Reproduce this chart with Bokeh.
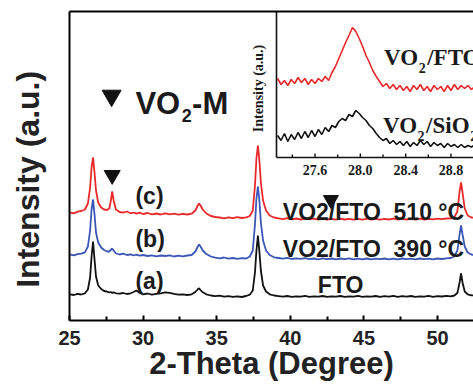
from bokeh.plotting import figure
from bokeh.models import Range1d, LinearAxis, FixedTicker
from bokeh.core.properties import value
from bokeh.embed import file_html
from bokeh.resources import INLINE

# ---------------- data: main XRD patterns (2-theta in degrees, intensity a.u.) ----------------
two_theta = [
    25.05, 25.3, 25.55, 25.8, 26.05, 26.25, 26.4, 26.5, 26.6, 26.7,
    26.8, 26.95, 27.15, 27.35, 27.55, 27.7, 27.8, 27.9, 28.0, 28.15,
    28.4, 28.65, 28.9, 29.15, 29.35, 29.55, 29.75, 30.0, 30.3, 30.6,
    30.9, 31.2, 31.5, 31.8, 32.1, 32.4, 32.7, 33.0, 33.3, 33.55,
    33.7, 33.8, 33.9, 34.05, 34.3, 34.6, 34.9, 35.2, 35.5, 35.8,
    36.1, 36.4, 36.7, 37.0, 37.25, 37.45, 37.6, 37.7, 37.8, 37.9,
    38.0, 38.15, 38.35, 38.6, 38.9, 39.2, 39.5, 39.8, 40.1, 40.4,
    40.7, 41.0, 41.3, 41.6, 41.9, 42.2, 42.5, 42.8, 43.1, 43.4,
    43.7, 44.0, 44.3, 44.6, 44.9, 45.2, 45.5, 45.8, 46.1, 46.4,
    46.7, 47.0, 47.3, 47.6, 47.9, 48.2, 48.5, 48.8, 49.1, 49.4,
    49.7, 50.0, 50.3, 50.6, 50.9, 51.15, 51.35, 51.5, 51.6, 51.7,
    51.85, 52.05, 52.3, 52.6,
]
fto_a = [
    262, 255, 266, 260, 272, 310, 430, 640, 790, 610,
    440, 350, 315, 295, 288, 280, 285, 276, 282, 272,
    268, 275, 265, 272, 285, 300, 278, 262, 270, 258,
    266, 272, 282, 276, 266, 258, 262, 255, 262, 285,
    310, 322, 305, 282, 262, 250, 244, 248, 238, 244,
    236, 242, 235, 245, 258, 300, 480, 700, 850, 690,
    500, 350, 290, 262, 250, 244, 238, 245, 236, 242,
    238, 246, 236, 242, 238, 245, 236, 242, 238, 245,
    236, 242, 238, 246, 236, 242, 238, 245, 236, 243,
    238, 246, 237, 243, 238, 245, 236, 242, 239, 246,
    237, 243, 240, 246, 242, 250, 275, 380, 470, 380,
    290, 262, 252, 250,
]
vo2_390_b = [
    660, 652, 664, 668, 682, 740, 900, 1110, 1210, 1060,
    880, 780, 730, 705, 690, 690, 705, 720, 700, 670,
    660, 668, 655, 662, 650, 658, 648, 655, 645, 652,
    642, 650, 645, 652, 640, 648, 642, 650, 655, 690,
    735, 760, 740, 700, 665, 640, 628, 622, 630, 618,
    625, 616, 624, 620, 640, 700, 960, 1220, 1340, 1200,
    980, 800, 700, 655, 632, 625, 618, 626, 615, 622,
    616, 624, 614, 620, 612, 622, 614, 620, 612, 620,
    613, 621, 612, 618, 612, 620, 611, 619, 613, 620,
    612, 619, 611, 620, 613, 618, 611, 620, 614, 619,
    612, 620, 615, 622, 625, 640, 700, 860, 950, 860,
    740, 680, 660, 650,
]
vo2_510_c = [
    1080, 1072, 1088, 1095, 1110, 1170, 1330, 1530, 1630, 1480,
    1300, 1180, 1130, 1110, 1105, 1120, 1190, 1290, 1200, 1110,
    1085, 1078, 1090, 1072, 1080, 1068, 1078, 1065, 1075, 1062,
    1070, 1060, 1072, 1062, 1068, 1058, 1066, 1060, 1068, 1100,
    1145, 1170, 1150, 1110, 1070, 1045, 1035, 1030, 1022, 1032,
    1024, 1034, 1025, 1032, 1045, 1100, 1350, 1620, 1750, 1600,
    1380, 1200, 1100, 1050, 1030, 1022, 1014, 1024, 1012, 1020,
    1010, 1020, 1012, 1018, 1008, 1018, 1010, 1016, 1008, 1018,
    1010, 1017, 1008, 1016, 1009, 1018, 1010, 1017, 1008, 1016,
    1010, 1018, 1009, 1016, 1010, 1017, 1008, 1018, 1010, 1016,
    1012, 1018, 1013, 1020, 1022, 1035, 1090, 1290, 1380, 1280,
    1120, 1050, 1030, 1025,
]

# ---------------- data: inset (zoom on the VO2 (011) reflection) ----------------
inset_theta = [
    27.27, 27.30, 27.33, 27.36, 27.39, 27.42, 27.45, 27.48, 27.51, 27.54,
    27.57, 27.60, 27.63, 27.66, 27.69, 27.72, 27.75, 27.78, 27.81, 27.84,
    27.87, 27.90, 27.93, 27.96, 27.99, 28.02, 28.05, 28.08, 28.11, 28.14,
    28.17, 28.20, 28.23, 28.26, 28.29, 28.32, 28.35, 28.38, 28.41, 28.44,
    28.47, 28.50, 28.53, 28.56, 28.59, 28.62, 28.65, 28.68, 28.71, 28.74,
    28.77, 28.80, 28.83, 28.86, 28.89, 28.92, 28.95, 28.98, 29.01,
]
inset_vo2_fto = [
    790, 730, 770, 720, 780, 740, 800, 750, 790, 730,
    780, 740, 790, 760, 810, 770, 850, 910, 990, 1070,
    1150, 1220, 1300, 1260, 1190, 1110, 1020, 950, 870, 810,
    760, 710, 740, 690, 730, 680, 720, 670, 710, 660,
    720, 680, 730, 670, 710, 660, 720, 680, 710, 660,
    720, 670, 730, 680, 720, 690, 720, 680, 710,
]
inset_vo2_sio2 = [
    220, 170, 240, 160, 230, 180, 250, 190, 260, 200,
    270, 210, 280, 230, 300, 260, 320, 300, 360, 390,
    370, 430, 410, 470, 440, 400, 370, 320, 290, 240,
    200, 170, 190, 140, 170, 130, 160, 120, 160, 110,
    150, 120, 170, 130, 160, 110, 150, 120, 140, 100,
    140, 110, 130, 100, 130, 100, 120, 105, 125,
]
inset_ticks = [27.6, 28.0, 28.4, 28.8]
inset_minor = [27.4, 27.8, 28.2, 28.6]
inset_tick_labels = ["27.6", "28.0", "28.4", "28.8"]

main_ticks = [25, 30, 35, 40, 45, 50]
main_minor = [27.5, 32.5, 37.5, 42.5, 47.5]

RED = "#e8292b"
BLUE = "#3b56b6"
BLACK = "#111111"
SANS = "Liberation Sans"
SERIF = "Liberation Serif"

# ---------------- layout constants (pixels) ----------------
FIG_W, FIG_H = 473, 384
BORDER_L, BORDER_T, BORDER_B = 69, 11, 64
frame_w = FIG_W - BORDER_L
frame_h = FIG_H - BORDER_T - BORDER_B
px_per_deg = 14.72
x_start = 25.0
x_end = x_start + frame_w / px_per_deg
y_start, y_end = 0.0, 3090.0

p = figure(width=FIG_W, height=FIG_H, output_backend="svg", toolbar_location=None,
           x_range=Range1d(x_start, x_end), y_range=Range1d(y_start, y_end),
           min_border_left=BORDER_L, min_border_right=0, min_border_top=BORDER_T,
           min_border_bottom=BORDER_B)
p.grid.visible = False
p.outline_line_color = None
p.background_fill_color = "white"
p.border_fill_color = "white"

xa = p.xaxis[0]
xa.ticker = FixedTicker(ticks=main_ticks, minor_ticks=main_minor)
xa.axis_line_width = 2
xa.major_tick_line_width = 2
xa.minor_tick_line_width = 2
xa.major_tick_in = 5
xa.major_tick_out = 0
xa.minor_tick_in = 4
xa.minor_tick_out = 0
xa.major_label_text_font = SANS
xa.major_label_text_font_style = "bold"
xa.major_label_text_font_size = "20px"
xa.major_label_text_color = "#222222"
xa.major_label_standoff = 10
xa.axis_label = "2-Theta (Degree)"
xa.axis_label_text_font = SANS
xa.axis_label_text_font_style = "bold"
xa.axis_label_text_font_size = "31px"
xa.axis_label_text_color = "#222222"
xa.axis_label_standoff = -2

ya = p.yaxis[0]
ya.ticker = FixedTicker(ticks=[])
ya.axis_line_width = 2
ya.major_tick_line_color = None
ya.minor_tick_line_color = None
ya.major_label_text_font_size = "0px"
# trailing no-break spaces nudge the visible label toward the bottom, as in the reference
ya.axis_label = "Intensity (a.u.)\u00a0\u00a0\u00a0"
ya.axis_label_text_font = SANS
ya.axis_label_text_font_style = "bold"
ya.axis_label_text_font_size = "32px"
ya.axis_label_text_color = "#222222"
ya.axis_label_standoff = 24

top = LinearAxis(ticker=FixedTicker(ticks=[]), axis_line_width=2,
                 major_tick_line_color=None, minor_tick_line_color=None,
                 major_label_text_font_size="0px", major_label_standoff=0)
p.add_layout(top, "above")

# main curves
p.line(two_theta, fto_a, line_color=BLACK, line_width=1.8)
p.line(two_theta, vo2_390_b, line_color=BLUE, line_width=1.8)
p.line(two_theta, vo2_510_c, line_color=RED, line_width=1.8)

# VO2-M markers
p.scatter([27.86], [2248], marker="inverted_triangle", size=19, color=BLACK)
p.scatter([27.9], [1454], marker="inverted_triangle", size=16, color=BLACK)
p.scatter([42.76], [1207], marker="inverted_triangle", size=15, color=BLACK)

def txt(x, y, s, size, font=SANS, align="left", baseline="middle", angle=0.0,
        x_range_name="default", y_range_name="default"):
    p.text([x], [y], text=[s], text_font=value(font), text_font_style="bold",
           text_font_size=size, text_color="#1a1a1a", text_align=align,
           text_baseline=baseline, angle=angle,
           x_range_name=x_range_name, y_range_name=y_range_name)

txt(29.48, 2170, "VO", "31px", baseline="alphabetic")
txt(32.62, 2050, "2", "18px", baseline="alphabetic")
txt(33.33, 2170, "-M", "31px", baseline="alphabetic")
txt(29.48, 1250, "(c)", "23px")
txt(29.48, 820, "(b)", "23px")
txt(29.48, 400, "(a)", "23px")
txt(39.49, 1090, "VO2/FTO \u00a0510 \u00b0C", "23px")
txt(39.49, 720, "VO2/FTO \u00a0390 \u00b0C", "23px")
txt(41.87, 360, "FTO", "23px")

# ---------------- inset drawn on extra ranges ----------------
INSET_L_PX, INSET_B_PX = 276, 157      # page pixels of inset left / bottom edge
FRAME_L_PX, FRAME_B_PX, FRAME_T_PX = BORDER_L, BORDER_T + frame_h, BORDER_T
inset_px_per_deg = 113.3
inset_x0 = 27.26
ix_start = inset_x0 - (INSET_L_PX - FRAME_L_PX) / inset_px_per_deg
ix_end = inset_x0 + (FRAME_L_PX + frame_w - INSET_L_PX) / inset_px_per_deg
inset_units_per_px = 10.0
iy_start = -(FRAME_B_PX - INSET_B_PX) * inset_units_per_px
iy_end = (INSET_B_PX - FRAME_T_PX) * inset_units_per_px
p.extra_x_ranges = {"ix": Range1d(ix_start, ix_end)}
p.extra_y_ranges = {"iy": Range1d(iy_start, iy_end)}

p.line(inset_theta, inset_vo2_fto, line_color=RED, line_width=1.6,
       x_range_name="ix", y_range_name="iy")
p.line(inset_theta, inset_vo2_sio2, line_color=BLACK, line_width=1.6,
       x_range_name="ix", y_range_name="iy")

# inset axes lines
p.segment(x0=[inset_x0, inset_x0], y0=[0, 0], x1=[ix_end, inset_x0], y1=[0, iy_end],
          line_color=BLACK, line_width=1.6, x_range_name="ix", y_range_name="iy")
# inset ticks (inward)
p.segment(x0=inset_ticks, y0=[0] * len(inset_ticks), x1=inset_ticks,
          y1=[4 * inset_units_per_px] * len(inset_ticks),
          line_color=BLACK, line_width=1.4, x_range_name="ix", y_range_name="iy")
p.segment(x0=inset_minor, y0=[0] * len(inset_minor), x1=inset_minor,
          y1=[3 * inset_units_per_px] * len(inset_minor),
          line_color=BLACK, line_width=1.4, x_range_name="ix", y_range_name="iy")
for t, lab in zip(inset_ticks, inset_tick_labels):
    txt(t, -12 * inset_units_per_px, lab, "14px", font=SERIF, align="center",
        x_range_name="ix", y_range_name="iy")

txt(37.86, 2320, "Intensity (a.u.)", "14px", font=SERIF, align="center", angle=1.5708)

txt(28.209, 1000, "VO", "23px", font=SERIF, baseline="alphabetic", x_range_name="ix", y_range_name="iy")
txt(28.515, 900, "2", "14px", font=SERIF, baseline="alphabetic", x_range_name="ix", y_range_name="iy")
txt(28.59, 1000, "/FTO", "23px", font=SERIF, baseline="alphabetic", x_range_name="ix", y_range_name="iy")
txt(28.20, 320, "VO", "23px", font=SERIF, baseline="alphabetic", x_range_name="ix", y_range_name="iy")
txt(28.505, 220, "2", "14px", font=SERIF, baseline="alphabetic", x_range_name="ix", y_range_name="iy")
txt(28.58, 320, "/SiO", "23px", font=SERIF, baseline="alphabetic", x_range_name="ix", y_range_name="iy")
txt(28.97, 220, "2", "14px", font=SERIF, baseline="alphabetic", x_range_name="ix", y_range_name="iy")

open("out.html", "w").write(file_html(p, INLINE))
